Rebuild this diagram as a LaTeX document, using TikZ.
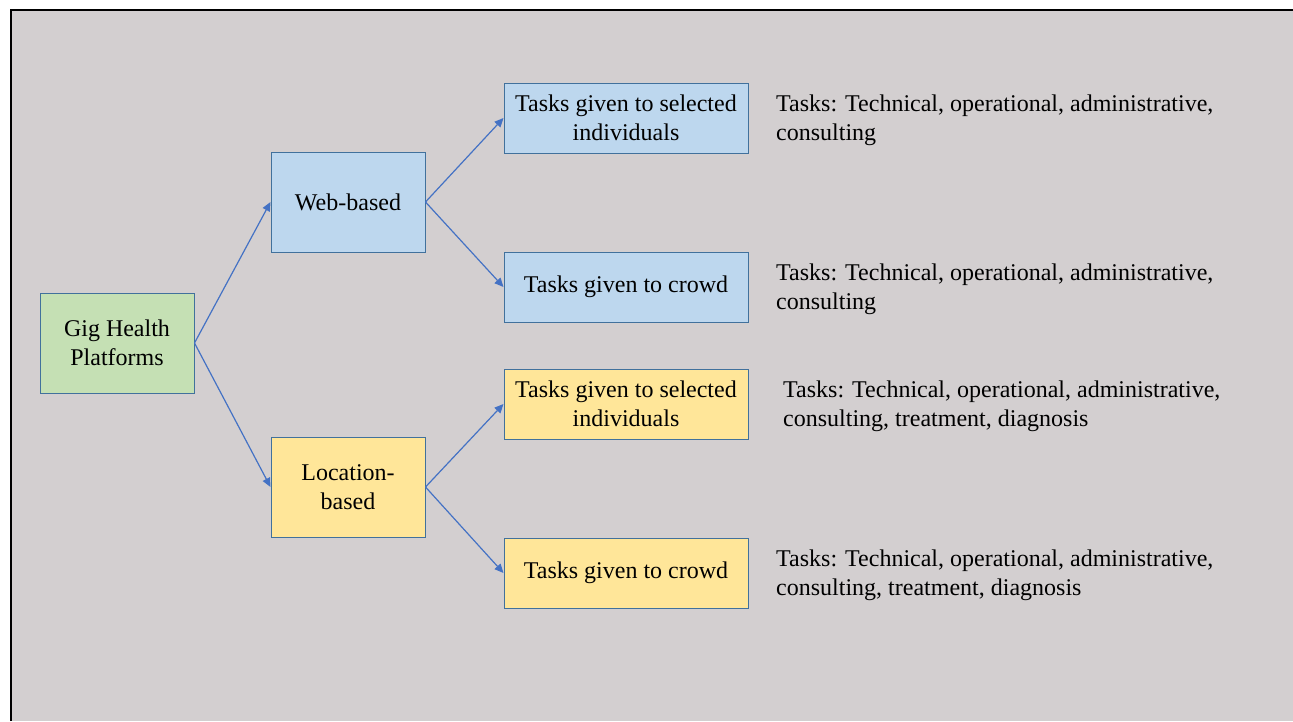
\documentclass[tikz,border=0pt]{standalone}
\usepackage{fontspec}
\setmainfont{Liberation Serif}
\usetikzlibrary{arrows.meta}
\definecolor{bg}{RGB}{211,207,208}
\definecolor{edgeblue}{RGB}{68,114,196}
\definecolor{boxedge}{RGB}{65,113,156}
\definecolor{fgreen}{RGB}{197,224,180}
\definecolor{fblue}{RGB}{189,215,238}
\definecolor{fyellow}{RGB}{255,230,153}
\tikzset{
  box/.style={draw=boxedge, line width=1pt, inner sep=0pt, align=center,
    font=\fontsize{24}{29}\selectfont, text=black},
  small/.style={box, minimum width=154pt, minimum height=100pt},
  wide/.style={box, minimum width=244pt, minimum height=70pt},
  desc/.style={anchor=west, align=left, inner sep=0pt, font=\fontsize{24}{29}\selectfont},
  conn/.style={draw=edgeblue, line width=1.2pt, -{Triangle[length=9pt,width=8pt]}}
}
\begin{document}
\begin{tikzpicture}[x=1pt,y=-1pt]
\useasboundingbox (0,0) rectangle (1293,721);
\fill[white] (0,0) rectangle (1293,721);
\fill[bg] (11,10) rectangle (1293,721);
\draw[black, line width=2pt] (11,721) -- (11,10) -- (1293,10);

\node[small, fill=fgreen] (gig) at (117,343) {Gig Health\\Platforms};
\node[small, fill=fblue] (web) at (348,202) {Web-based};
\node[small, fill=fyellow] (loc) at (348,487) {Location-\\based};

\node[wide, fill=fblue] (w1) at (626,118) {Tasks given to selected\\individuals};
\node[wide, fill=fblue] (w2) at (626,287) {Tasks given to crowd};
\node[wide, fill=fyellow] (l1) at (626,404) {Tasks given to selected\\individuals};
\node[wide, fill=fyellow] (l2) at (626,573) {Tasks given to crowd};

\node[desc] (d1) at (776,120) {Tasks: Technical, operational, administrative,\\consulting};
\node[desc] (d2) at (776,289) {Tasks: Technical, operational, administrative,\\consulting};
\node[desc] (d3) at (783,406) {Tasks: Technical, operational, administrative,\\consulting, treatment, diagnosis};
\node[desc] (d4) at (776,575) {Tasks: Technical, operational, administrative,\\consulting, treatment, diagnosis};

\draw[conn] (gig.east) -- (web.west);
\draw[conn] (gig.east) -- (loc.west);
\draw[conn] (web.east) -- (w1.west);
\draw[conn] (web.east) -- (w2.west);
\draw[conn] (loc.east) -- (l1.west);
\draw[conn] (loc.east) -- (l2.west);
\end{tikzpicture}
\end{document}
